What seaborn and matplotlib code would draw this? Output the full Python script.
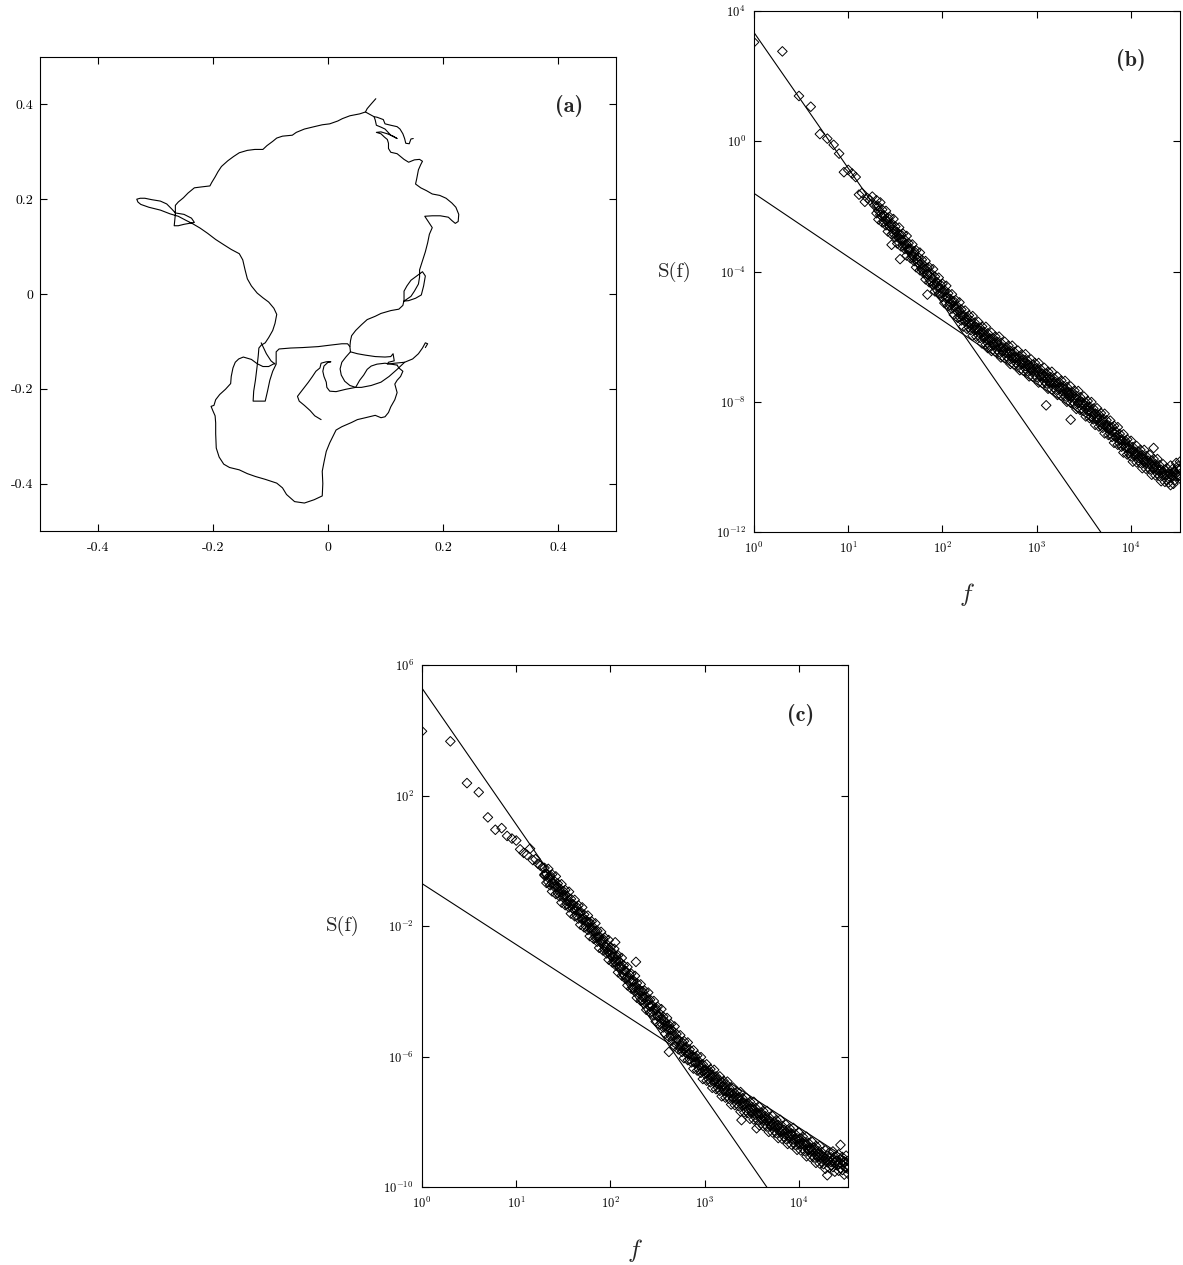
import numpy as np
import pandas as pd
import matplotlib
matplotlib.use("Agg")
import matplotlib.pyplot as plt
from matplotlib.ticker import NullLocator, FixedLocator, FixedFormatter
import seaborn as sns

# ------------------------------------------------------------------
# (a) planar trajectory, stored as strokes of (x, y) positions
# ------------------------------------------------------------------
north_rim = [
    (0.083, 0.412), (0.075, 0.401), (0.068, 0.391), (0.065, 0.384), (0.055, 0.380),
    (0.038, 0.376), (0.025, 0.370), (0.017, 0.365), (0.003, 0.359), (-0.010, 0.357),
    (-0.024, 0.353), (-0.041, 0.348), (-0.055, 0.341), (-0.062, 0.335), (-0.079, 0.333),
    (-0.089, 0.329), (-0.096, 0.322), (-0.106, 0.313), (-0.113, 0.305), (-0.127, 0.305),
    (-0.140, 0.303), (-0.154, 0.298), (-0.164, 0.290), (-0.174, 0.281), (-0.185, 0.269),
    (-0.191, 0.258), (-0.196, 0.247), (-0.202, 0.235), (-0.205, 0.228), (-0.219, 0.226),
    (-0.232, 0.224), (-0.243, 0.213), (-0.251, 0.203), (-0.260, 0.194), (-0.265, 0.187),
    (-0.265, 0.168), (-0.267, 0.144), (-0.260, 0.144), (-0.250, 0.147), (-0.232, 0.151),
    (-0.237, 0.160), (-0.250, 0.168), (-0.265, 0.171), (-0.271, 0.179), (-0.280, 0.190),
    (-0.291, 0.196), (-0.306, 0.199), (-0.318, 0.202), (-0.326, 0.202), (-0.332, 0.200),
    (-0.330, 0.194), (-0.325, 0.189), (-0.311, 0.183), (-0.291, 0.177), (-0.274, 0.169),
    (-0.260, 0.164), (-0.246, 0.155), (-0.236, 0.149), (-0.222, 0.139), (-0.209, 0.128),
    (-0.195, 0.115), (-0.181, 0.104), (-0.168, 0.094), (-0.154, 0.085), (-0.148, 0.072),
    (-0.144, 0.051), (-0.140, 0.032), (-0.133, 0.017), (-0.123, 0.002), (-0.113, -0.008),
    (-0.103, -0.017), (-0.094, -0.030), (-0.089, -0.043), (-0.092, -0.062), (-0.096, -0.077),
    (-0.103, -0.092), (-0.109, -0.103), (-0.116, -0.108), (-0.120, -0.114), (-0.121, -0.129),
    (-0.123, -0.152), (-0.126, -0.182), (-0.129, -0.205), (-0.130, -0.226), (-0.109, -0.226),
    (-0.105, -0.205), (-0.101, -0.182), (-0.096, -0.163), (-0.090, -0.148), (-0.090, -0.122),
    (-0.085, -0.116), (-0.065, -0.114), (-0.044, -0.113), (-0.017, -0.111), (0.003, -0.108),
    (0.024, -0.105), (0.034, -0.105), (0.038, -0.111), (0.039, -0.122),
]

spur = [(-0.116, -0.103), (-0.107, -0.126), (-0.099, -0.141), (-0.092, -0.148)]

south_lobe = [
    (-0.092, -0.146), (-0.103, -0.153), (-0.113, -0.153), (-0.123, -0.147), (-0.133, -0.138),
    (-0.147, -0.133), (-0.155, -0.137), (-0.161, -0.144), (-0.165, -0.156), (-0.168, -0.174),
    (-0.169, -0.189), (-0.178, -0.201), (-0.188, -0.212), (-0.195, -0.223), (-0.198, -0.235),
    (-0.203, -0.237), (-0.200, -0.246), (-0.196, -0.257), (-0.195, -0.272), (-0.195, -0.295),
    (-0.194, -0.325), (-0.189, -0.344), (-0.181, -0.359), (-0.171, -0.366), (-0.154, -0.371),
    (-0.140, -0.379), (-0.126, -0.385), (-0.109, -0.391), (-0.089, -0.399), (-0.079, -0.409),
    (-0.072, -0.423), (-0.058, -0.438), (-0.041, -0.441), (-0.024, -0.434), (-0.010, -0.426),
    (-0.009, -0.400), (-0.010, -0.374), (-0.007, -0.355), (-0.003, -0.332), (0.003, -0.314),
    (0.014, -0.287), (0.024, -0.280), (0.041, -0.271), (0.051, -0.265), (0.065, -0.261),
    (0.082, -0.256), (0.092, -0.261), (0.099, -0.259), (0.105, -0.250), (0.109, -0.238),
    (0.116, -0.223), (0.120, -0.208), (0.116, -0.190), (0.120, -0.182), (0.126, -0.174),
    (0.130, -0.163), (0.123, -0.156), (0.120, -0.150),
]

east_hook = [
    (0.039, -0.122), (0.051, -0.126), (0.065, -0.129), (0.082, -0.132), (0.099, -0.133),
    (0.109, -0.132), (0.113, -0.126), (0.115, -0.141), (0.105, -0.144), (0.103, -0.148),
    (0.116, -0.146), (0.133, -0.144), (0.147, -0.137), (0.157, -0.126), (0.164, -0.114),
    (0.169, -0.103), (0.173, -0.105), (0.169, -0.113),
]

inner_loop = [
    (0.133, -0.144), (0.120, -0.159), (0.106, -0.174), (0.092, -0.186), (0.075, -0.193),
    (0.058, -0.197), (0.048, -0.197), (0.038, -0.193), (0.029, -0.184), (0.023, -0.171),
    (0.021, -0.158), (0.024, -0.144), (0.031, -0.133), (0.039, -0.122),
]

inner_chord = [
    (0.048, -0.197), (0.055, -0.182), (0.062, -0.171), (0.068, -0.159), (0.075, -0.152),
    (0.085, -0.148), (0.099, -0.146), (0.120, -0.150),
]

middle_branch = [
    (0.048, -0.197), (0.031, -0.201), (0.014, -0.206), (0.003, -0.205), (-0.002, -0.197),
    (-0.003, -0.186), (-0.007, -0.174), (-0.009, -0.163), (-0.007, -0.152), (0.000, -0.144),
    (0.005, -0.143), (-0.003, -0.143), (-0.012, -0.146), (-0.014, -0.156), (-0.021, -0.163),
    (-0.027, -0.174), (-0.034, -0.186), (-0.041, -0.197), (-0.048, -0.208), (-0.053, -0.216),
    (-0.050, -0.226), (-0.041, -0.235), (-0.031, -0.246), (-0.023, -0.257), (-0.012, -0.265),
]

east_rim = [
    (0.038, -0.111), (0.039, -0.099), (0.041, -0.088), (0.048, -0.077), (0.058, -0.065),
    (0.068, -0.054), (0.082, -0.047), (0.092, -0.041), (0.109, -0.035), (0.123, -0.032),
    (0.130, -0.024), (0.132, -0.013), (0.132, 0.006), (0.137, 0.017), (0.144, 0.029),
    (0.154, 0.038), (0.164, 0.047), (0.169, 0.038), (0.166, 0.017), (0.162, -0.002),
    (0.152, -0.009), (0.140, -0.014), (0.132, -0.015), (0.144, -0.005), (0.150, 0.006),
    (0.157, 0.021), (0.159, 0.036), (0.159, 0.051), (0.164, 0.070), (0.169, 0.089),
    (0.173, 0.108), (0.176, 0.126), (0.181, 0.140), (0.174, 0.153), (0.168, 0.164),
    (0.181, 0.165), (0.195, 0.165), (0.209, 0.162), (0.215, 0.155), (0.221, 0.149),
    (0.226, 0.153), (0.227, 0.168), (0.222, 0.183), (0.215, 0.192), (0.205, 0.202),
    (0.194, 0.208), (0.181, 0.211), (0.171, 0.218), (0.161, 0.224), (0.152, 0.232),
    (0.154, 0.243), (0.157, 0.262), (0.161, 0.273), (0.164, 0.280), (0.159, 0.284),
    (0.150, 0.283), (0.140, 0.278), (0.132, 0.284), (0.126, 0.290), (0.120, 0.296),
    (0.109, 0.299), (0.105, 0.307), (0.105, 0.318), (0.103, 0.326), (0.098, 0.331),
    (0.092, 0.338), (0.084, 0.341), (0.092, 0.342), (0.103, 0.338), (0.113, 0.333),
    (0.120, 0.328), (0.109, 0.335), (0.099, 0.348), (0.092, 0.352), (0.084, 0.356),
    (0.082, 0.367), (0.080, 0.374), (0.065, 0.384),
]

north_tangle = [
    (0.080, 0.374), (0.085, 0.373), (0.096, 0.368), (0.099, 0.359), (0.109, 0.356),
    (0.120, 0.353), (0.125, 0.348), (0.130, 0.338), (0.133, 0.328), (0.135, 0.318),
    (0.141, 0.317), (0.144, 0.327), (0.148, 0.328),
]

a_ticks = [-0.4, -0.2, 0.0, 0.2, 0.4]
a_tick_labels = ["-0.4", "-0.2", "0", "0.2", "0.4"]

# ------------------------------------------------------------------
# (b), (c) power spectra: log10 f and log10 S(f)
# ------------------------------------------------------------------
low_f = [1, 2, 3, 4, 5, 6, 7, 8, 9, 10, 11, 12, 13, 14, 15, 16, 17, 18, 19]
low_logS_b = [3.04, 2.76, 1.39, 1.06, 0.22, 0.08, -0.11, -0.38, -0.95, -0.88,
              -0.99, -1.10, -1.64, -1.59, -1.86, -1.75, -1.81, -1.70, -1.97]
low_logS_c = [3.97, 3.66, 2.38, 2.10, 1.33, 0.95, 1.00, 0.76, 0.68, 0.62,
              0.35, 0.24, 0.18, 0.37, 0.02, 0.05, -0.09, -0.15, -0.20]

band_logf = [
    1.30, 1.32, 1.34, 1.36, 1.38, 1.40, 1.42, 1.44, 1.46, 1.48,
    1.50, 1.52, 1.54, 1.56, 1.58, 1.60, 1.62, 1.64, 1.66, 1.68,
    1.70, 1.72, 1.74, 1.76, 1.78, 1.80, 1.82, 1.84, 1.86, 1.88,
    1.90, 1.92, 1.94, 1.96, 1.98, 2.00, 2.02, 2.04, 2.06, 2.08,
    2.10, 2.12, 2.14, 2.16, 2.18, 2.20, 2.22, 2.24, 2.26, 2.28,
    2.30, 2.32, 2.34, 2.36, 2.38, 2.40, 2.42, 2.44, 2.46, 2.48,
    2.50, 2.52, 2.54, 2.56, 2.58, 2.60, 2.62, 2.64, 2.66, 2.68,
    2.70, 2.72, 2.74, 2.76, 2.78, 2.80, 2.82, 2.84, 2.86, 2.88,
    2.90, 2.92, 2.94, 2.96, 2.98, 3.00, 3.02, 3.04, 3.06, 3.08,
    3.10, 3.12, 3.14, 3.16, 3.18, 3.20, 3.22, 3.24, 3.26, 3.28,
    3.30, 3.32, 3.34, 3.36, 3.38, 3.40, 3.42, 3.44, 3.46, 3.48,
    3.50, 3.52, 3.54, 3.56, 3.58, 3.60, 3.62, 3.64, 3.66, 3.68,
    3.70, 3.72, 3.74, 3.76, 3.78, 3.80, 3.82, 3.84, 3.86, 3.88,
    3.90, 3.92, 3.94, 3.96, 3.98, 4.00, 4.02, 4.04, 4.06, 4.08,
    4.10, 4.12, 4.14, 4.16, 4.18, 4.20, 4.22, 4.24, 4.26, 4.28,
    4.30, 4.32, 4.34, 4.36, 4.38, 4.40, 4.42, 4.44, 4.46, 4.48,
    4.50, 4.52,
]

band_b_upper = [
    -1.81, -2.00, -1.88, -2.10, -2.28, -2.14, -2.35, -2.33, -2.52, -2.39,
    -2.62, -2.79, -2.65, -2.87, -2.84, -3.03, -2.91, -3.13, -3.30, -3.17,
    -3.38, -3.35, -3.55, -3.42, -3.64, -3.82, -3.68, -3.89, -3.87, -4.06,
    -3.93, -4.16, -4.33, -4.19, -4.41, -4.38, -4.57, -4.44, -4.67, -4.84,
    -4.70, -4.91, -4.88, -5.08, -4.95, -5.17, -5.34, -5.20, -5.40, -5.35,
    -5.52, -5.37, -5.57, -5.71, -5.55, -5.74, -5.69, -5.86, -5.70, -5.90,
    -6.05, -5.88, -6.06, -6.00, -6.16, -6.00, -6.19, -6.33, -6.16, -6.34,
    -6.28, -6.44, -6.28, -6.47, -6.61, -6.43, -6.61, -6.55, -6.71, -6.54,
    -6.73, -6.87, -6.70, -6.87, -6.81, -6.97, -6.81, -7.00, -7.14, -6.96,
    -7.14, -7.08, -7.24, -7.08, -7.27, -7.40, -7.23, -7.41, -7.35, -7.52,
    -7.36, -7.55, -7.70, -7.53, -7.72, -7.66, -7.82, -7.67, -7.86, -8.01,
    -7.84, -8.03, -7.98, -8.16, -8.01, -8.21, -8.36, -8.20, -8.40, -8.35,
    -8.52, -8.37, -8.57, -8.73, -8.58, -8.78, -8.74, -8.92, -8.78, -8.99,
    -9.15, -9.00, -9.20, -9.16, -9.34, -9.20, -9.39, -9.53, -9.36, -9.54,
    -9.48, -9.64, -9.48, -9.67, -9.81, -9.64, -9.82, -9.76, -9.92, -9.76,
    -9.95, -10.09, -9.92, -10.10, -10.04, -10.20, -9.96, -10.07, -10.13, -9.88,
    -9.98, -9.84,
]

band_b_middle = [
    -1.99, -2.13, -2.17, -2.31, -2.29, -2.43, -2.46, -2.61, -2.58, -2.72,
    -2.76, -2.90, -2.87, -3.02, -3.05, -3.19, -3.17, -3.31, -3.34, -3.49,
    -3.46, -3.60, -3.64, -3.78, -3.75, -3.90, -3.93, -4.07, -4.05, -4.19,
    -4.22, -4.37, -4.34, -4.48, -4.52, -4.66, -4.63, -4.77, -4.81, -4.95,
    -4.92, -5.06, -5.09, -5.24, -5.21, -5.35, -5.38, -5.52, -5.48, -5.60,
    -5.61, -5.73, -5.68, -5.79, -5.80, -5.92, -5.87, -5.99, -5.99, -6.11,
    -6.06, -6.17, -6.17, -6.28, -6.22, -6.33, -6.33, -6.44, -6.38, -6.49,
    -6.49, -6.60, -6.54, -6.65, -6.65, -6.75, -6.69, -6.80, -6.80, -6.90,
    -6.84, -6.95, -6.95, -7.05, -6.99, -7.10, -7.10, -7.21, -7.15, -7.25,
    -7.25, -7.36, -7.30, -7.41, -7.41, -7.51, -7.45, -7.56, -7.56, -7.68,
    -7.62, -7.73, -7.74, -7.85, -7.80, -7.91, -7.91, -8.03, -7.97, -8.09,
    -8.09, -8.21, -8.16, -8.29, -8.30, -8.42, -8.37, -8.49, -8.51, -8.63,
    -8.58, -8.70, -8.71, -8.84, -8.80, -8.93, -8.95, -9.08, -9.04, -9.17,
    -9.19, -9.32, -9.28, -9.41, -9.43, -9.56, -9.50, -9.61, -9.61, -9.72,
    -9.66, -9.77, -9.77, -9.88, -9.82, -9.93, -9.93, -10.04, -9.98, -10.09,
    -10.09, -10.20, -10.14, -10.25, -10.25, -10.36, -10.22, -10.25, -10.17, -10.20,
    -10.06, -10.09,
]

band_b_lower = [
    -2.21, -2.40, -2.26, -2.49, -2.47, -2.58, -2.77, -2.63, -2.86, -2.83,
    -2.95, -3.14, -2.99, -3.23, -3.20, -3.31, -3.51, -3.36, -3.59, -3.57,
    -3.68, -3.87, -3.73, -3.96, -3.93, -4.05, -4.24, -4.09, -4.33, -4.30,
    -4.41, -4.61, -4.46, -4.69, -4.67, -4.78, -4.97, -4.82, -5.06, -5.03,
    -5.14, -5.33, -5.18, -5.42, -5.39, -5.50, -5.69, -5.54, -5.76, -5.71,
    -5.80, -5.97, -5.80, -6.00, -5.95, -6.04, -6.21, -6.04, -6.24, -6.19,
    -6.28, -6.44, -6.26, -6.46, -6.40, -6.48, -6.64, -6.46, -6.66, -6.60,
    -6.68, -6.84, -6.66, -6.86, -6.80, -6.87, -7.03, -6.85, -7.05, -6.98,
    -7.06, -7.22, -7.04, -7.23, -7.17, -7.25, -7.41, -7.23, -7.43, -7.36,
    -7.44, -7.60, -7.42, -7.62, -7.56, -7.63, -7.79, -7.61, -7.81, -7.76,
    -7.84, -8.00, -7.83, -8.03, -7.98, -8.06, -8.22, -8.05, -8.25, -8.20,
    -8.28, -8.45, -8.28, -8.50, -8.45, -8.54, -8.71, -8.54, -8.76, -8.71,
    -8.80, -8.97, -8.80, -9.02, -8.98, -9.08, -9.26, -9.10, -9.32, -9.28,
    -9.38, -9.56, -9.40, -9.62, -9.58, -9.68, -9.84, -9.66, -9.86, -9.80,
    -9.88, -10.04, -9.86, -10.06, -10.00, -10.08, -10.24, -10.06, -10.26, -10.20,
    -10.28, -10.44, -10.26, -10.46, -10.40, -10.48, -10.56, -10.30, -10.42, -10.28,
    -10.28, -10.36,
]

band_c_upper = [
    -0.22, -0.39, -0.25, -0.45, -0.42, -0.61, -0.48, -0.70, -0.86, -0.72,
    -0.93, -0.90, -1.09, -0.95, -1.17, -1.34, -1.20, -1.41, -1.37, -1.56,
    -1.43, -1.65, -1.82, -1.68, -1.89, -1.86, -2.05, -1.92, -2.15, -2.32,
    -2.18, -2.39, -2.36, -2.56, -2.43, -2.65, -2.83, -2.70, -2.92, -2.90,
    -3.10, -2.98, -3.21, -3.39, -3.26, -3.48, -3.46, -3.66, -3.53, -3.75,
    -3.93, -3.79, -4.00, -3.98, -4.17, -4.04, -4.26, -4.43, -4.30, -4.51,
    -4.48, -4.68, -4.55, -4.78, -4.95, -4.82, -5.04, -5.01, -5.21, -5.08,
    -5.31, -5.49, -5.35, -5.56, -5.53, -5.71, -5.57, -5.79, -5.95, -5.81,
    -6.01, -5.97, -6.16, -6.02, -6.24, -6.40, -6.24, -6.43, -6.39, -6.56,
    -6.41, -6.61, -6.76, -6.61, -6.80, -6.75, -6.92, -6.77, -6.97, -7.12,
    -6.95, -7.13, -7.08, -7.24, -7.09, -7.28, -7.42, -7.26, -7.44, -7.39,
    -7.55, -7.39, -7.58, -7.72, -7.55, -7.73, -7.67, -7.83, -7.67, -7.86,
    -8.00, -7.83, -8.01, -7.95, -8.10, -7.94, -8.13, -8.26, -8.09, -8.26,
    -8.20, -8.36, -8.19, -8.38, -8.51, -8.34, -8.52, -8.46, -8.62, -8.46,
    -8.65, -8.79, -8.62, -8.80, -8.74, -8.90, -8.74, -8.93, -9.07, -8.88,
    -9.04, -8.95, -9.09, -8.91, -9.08, -9.20, -9.00, -9.16, -9.08, -9.22,
    -9.04, -9.20,
]

band_c_middle = [
    -0.42, -0.42, -0.52, -0.51, -0.69, -0.69, -0.79, -0.79, -0.96, -0.96,
    -1.06, -1.06, -1.24, -1.23, -1.33, -1.33, -1.51, -1.51, -1.60, -1.60,
    -1.78, -1.78, -1.88, -1.88, -2.06, -2.06, -2.16, -2.16, -2.35, -2.35,
    -2.45, -2.45, -2.63, -2.64, -2.74, -2.74, -2.93, -2.94, -3.05, -3.06,
    -3.25, -3.26, -3.37, -3.38, -3.57, -3.58, -3.69, -3.70, -3.88, -3.88,
    -3.99, -3.99, -4.17, -4.18, -4.28, -4.28, -4.46, -4.46, -4.57, -4.57,
    -4.75, -4.76, -4.86, -4.87, -5.05, -5.06, -5.17, -5.17, -5.36, -5.36,
    -5.47, -5.48, -5.66, -5.66, -5.76, -5.75, -5.92, -5.92, -6.01, -6.01,
    -6.18, -6.17, -6.27, -6.26, -6.44, -6.43, -6.51, -6.49, -6.66, -6.64,
    -6.72, -6.70, -6.86, -6.85, -6.93, -6.91, -7.07, -7.05, -7.13, -7.11,
    -7.26, -7.23, -7.31, -7.28, -7.44, -7.41, -7.48, -7.46, -7.61, -7.59,
    -7.66, -7.63, -7.78, -7.75, -7.82, -7.79, -7.94, -7.91, -7.98, -7.95,
    -8.10, -8.07, -8.14, -8.11, -8.25, -8.22, -8.29, -8.25, -8.40, -8.36,
    -8.43, -8.40, -8.54, -8.51, -8.57, -8.54, -8.69, -8.66, -8.73, -8.70,
    -8.85, -8.82, -8.89, -8.86, -9.01, -8.98, -9.05, -9.02, -9.17, -9.12,
    -9.17, -9.11, -9.24, -9.19, -9.24, -9.19, -9.31, -9.26, -9.31, -9.26,
    -9.39, -9.33,
]

band_c_lower = [
    -0.45, -0.68, -0.65, -0.75, -0.94, -0.79, -1.02, -0.99, -1.09, -1.28,
    -1.13, -1.36, -1.33, -1.43, -1.62, -1.47, -1.70, -1.67, -1.77, -1.96,
    -1.81, -2.04, -2.01, -2.12, -2.31, -2.16, -2.39, -2.36, -2.48, -2.67,
    -2.52, -2.75, -2.72, -2.84, -3.03, -2.88, -3.12, -3.10, -3.22, -3.42,
    -3.28, -3.52, -3.50, -3.62, -3.82, -3.68, -3.92, -3.90, -4.01, -4.20,
    -4.06, -4.29, -4.26, -4.38, -4.57, -4.42, -4.65, -4.62, -4.74, -4.93,
    -4.78, -5.02, -4.99, -5.11, -5.30, -5.16, -5.40, -5.37, -5.49, -5.68,
    -5.54, -5.78, -5.75, -5.86, -6.05, -5.89, -6.11, -6.08, -6.18, -6.37,
    -6.21, -6.43, -6.40, -6.50, -6.69, -6.53, -6.74, -6.69, -6.79, -6.96,
    -6.79, -7.00, -6.95, -7.05, -7.22, -7.05, -7.26, -7.21, -7.30, -7.47,
    -7.29, -7.49, -7.44, -7.52, -7.69, -7.51, -7.71, -7.66, -7.74, -7.91,
    -7.73, -7.93, -7.87, -7.95, -8.11, -7.93, -8.13, -8.07, -8.15, -8.31,
    -8.13, -8.33, -8.27, -8.35, -8.50, -8.32, -8.52, -8.45, -8.53, -8.68,
    -8.50, -8.70, -8.63, -8.71, -8.86, -8.68, -8.88, -8.82, -8.90, -9.06,
    -8.88, -9.08, -9.02, -9.10, -9.26, -9.08, -9.28, -9.22, -9.30, -9.44,
    -9.24, -9.41, -9.33, -9.39, -9.53, -9.33, -9.50, -9.42, -9.48, -9.62,
    -9.42, -9.59,
]

stray_logf_b = [1.46, 1.55, 1.84, 3.10, 3.36, 4.24, 4.45, 2.48]
stray_logS_b = [-3.18, -3.62, -4.71, -8.11, -8.55, -9.42, -10.52, -6.35]
stray_logf_c = [2.62, 2.27, 3.39, 4.30, 4.44, 3.55, 2.05]
stray_logS_c = [-5.86, -3.10, -7.95, -9.64, -8.71, -8.20, -2.50]

# power-law fits: (log10 amplitude, exponent)
fits_b = [(3.34, -4.17), (-1.60, -1.95)]
fits_c = [(5.29, -4.18), (-0.70, -1.87)]

F_MAX = 10 ** 4.52

# ------------------------------------------------------------------
sns.set_style("ticks")
plt.rcParams["font.family"] = "serif"
plt.rcParams["font.serif"] = ["cmr10", "DejaVu Serif"]
plt.rcParams["mathtext.fontset"] = "cm"
plt.rcParams["axes.formatter.use_mathtext"] = True
plt.rcParams["axes.unicode_minus"] = False
plt.rcParams["axes.linewidth"] = 0.8
plt.rcParams["axes.edgecolor"] = "black"

W, H = 1183, 1265
fig = plt.figure(figsize=(W / 100, H / 100), dpi=100)
fig.patch.set_facecolor("white")


def box(l, t, r, b):
    return [l / W, 1 - b / H, (r - l) / W, (b - t) / H]


ax_a = fig.add_axes(box(40, 57, 616, 531))
ax_b = fig.add_axes(box(754, 11, 1180, 532))
ax_c = fig.add_axes(box(422, 665, 848, 1187))

# ---- (a) trajectory ----
strokes = [north_rim, spur, south_lobe, east_hook, inner_loop, inner_chord,
           middle_branch, east_rim, north_tangle]
track = pd.DataFrame(
    [(k, x, y) for k, s in enumerate(strokes) for (x, y) in s],
    columns=["stroke", "x", "y"],
)
sns.lineplot(data=track, x="x", y="y", units="stroke", estimator=None,
             sort=False, color="black", lw=0.8, ax=ax_a)
ax_a.set_xlim(-0.5, 0.5)
ax_a.set_ylim(-0.5, 0.5)
ax_a.xaxis.set_major_locator(FixedLocator(a_ticks))
ax_a.yaxis.set_major_locator(FixedLocator(a_ticks))
ax_a.xaxis.set_major_formatter(FixedFormatter(a_tick_labels))
ax_a.yaxis.set_major_formatter(FixedFormatter(a_tick_labels))
ax_a.tick_params(axis="x", pad=8)
ax_a.tick_params(axis="y", pad=5)
ax_a.set_xlabel("")
ax_a.set_ylabel("")
ax_a.text(0.418, 0.397, "(a)", fontfamily="cmb10", fontsize=16,
          ha="center", va="center")


def spectrum_panel(ax, low_logS, bands, stray_f, stray_S, fits, ylims,
                   yticks, tag, tag_pos):
    ax.set_xscale("log")
    ax.set_yscale("log")
    logf = [np.log10(v) for v in low_f] + stray_f
    logS = list(low_logS) + stray_S
    for band in bands:
        logf = logf + band_logf
        logS = logS + band
    pts = pd.DataFrame({"f": np.power(10.0, logf), "S": np.power(10.0, logS)})
    sns.scatterplot(data=pts, x="f", y="S", marker="D", s=24,
                    facecolor="none", edgecolor="black", linewidth=0.7,
                    ax=ax, zorder=3)
    for amp, slope in fits:
        fl = np.array([1.0, F_MAX])
        line = pd.DataFrame({"f": fl, "S": 10 ** amp * fl ** slope})
        sns.lineplot(data=line, x="f", y="S", color="black", lw=0.8,
                     estimator=None, sort=False, ax=ax, zorder=2)
    ax.set_xlim(1, F_MAX)
    ax.set_ylim(*ylims)
    ax.set_xticks([1, 10, 100, 1000, 10000])
    ax.set_yticks(yticks)
    ax.xaxis.set_minor_locator(NullLocator())
    ax.yaxis.set_minor_locator(NullLocator())
    ax.tick_params(axis="both", labelsize=9)
    ax.tick_params(axis="x", pad=6)
    ax.tick_params(axis="y", pad=6)
    ax.set_ylabel("S(f)", rotation=0, fontsize=15, ha="center", va="center")
    ax.yaxis.set_label_coords(-0.185, 0.5)
    ax.set_xlabel("$f$", fontsize=18)
    ax.xaxis.set_label_coords(0.5, -0.095)
    ax.text(tag_pos[0], tag_pos[1], tag, fontfamily="cmb10", fontsize=16,
            ha="center", va="center")


spectrum_panel(ax_b, low_logS_b, [band_b_upper, band_b_middle, band_b_lower],
               stray_logf_b, stray_logS_b, fits_b, (1e-12, 1e4),
               [1e-12, 1e-8, 1e-4, 1e0, 1e4], "(b)", (1.0e4, 10 ** 2.5))
spectrum_panel(ax_c, low_logS_c, [band_c_upper, band_c_middle, band_c_lower],
               stray_logf_c, stray_logS_c, fits_c, (1e-10, 1e6),
               [1e-10, 1e-6, 1e-2, 1e2, 1e6], "(c)", (1.05e4, 10 ** 4.46))

for ax in (ax_a, ax_b, ax_c):
    ax.tick_params(direction="in", top=True, right=True, length=5,
                   width=0.8, colors="black")
    for sp in ax.spines.values():
        sp.set_visible(True)
        sp.set_linewidth(0.8)
    ax.set_facecolor("white")

ax_a.tick_params(labelsize=10)

fig.savefig("out.png", dpi=100, facecolor="white")
